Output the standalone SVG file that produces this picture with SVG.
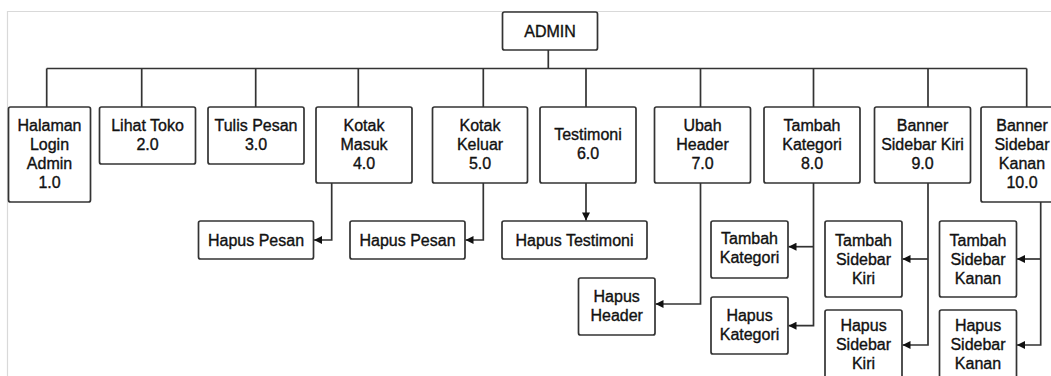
<svg xmlns="http://www.w3.org/2000/svg" width="1051" height="376" viewBox="0 0 1051 376">
<style>
.box{fill:#fff;stroke:#333;stroke-width:1.7}
.ln{fill:none;stroke:#333;stroke-width:1.7}
text{font-family:"Liberation Sans",Arial,sans-serif;font-size:16px;fill:#111;stroke:#111;stroke-width:0.35;text-anchor:middle}
</style>
<defs>
<marker id="arr" viewBox="0 0 10 10" refX="10" refY="5" markerWidth="9" markerHeight="8" orient="auto" markerUnits="userSpaceOnUse">
<path d="M0,0 L10,5 L0,10 Z" fill="#111"/>
</marker>
</defs>
<rect width="1051" height="376" fill="#fff"/>
<path d="M7.5,376 V11.5 H1051" fill="none" stroke="#d9d9d9" stroke-width="1.2"/>
<g id="connectors">
<path class="ln" d="M548.3,50 V68.5 M46.7,68.5 H1026.7 M46.7,68.5 V107 M141.7,68.5 V107 M255.7,68.5 V107 M358.3,68.5 V107 M483.3,68.5 V107 M586,68.5 V107 M700.5,68.5 V107 M813.5,68.5 V107 M928,68.5 V107 M1026.7,68.5 V107"/>
<path class="ln" d="M331.7,183 V240 H314" marker-end="url(#arr)"/>
<path class="ln" d="M483.3,183 V240 H465.5" marker-end="url(#arr)"/>
<path class="ln" d="M586,183 V220.5" marker-end="url(#arr)"/>
<path class="ln" d="M700.5,183 V304 H655.5" marker-end="url(#arr)"/>
<path class="ln" d="M813.5,183 V325.7 H788.5" marker-end="url(#arr)"/>
<path class="ln" d="M813.5,246.7 H788.5" marker-end="url(#arr)"/>
<path class="ln" d="M928,183 V345 H902.5" marker-end="url(#arr)"/>
<path class="ln" d="M928,259 H902.5" marker-end="url(#arr)"/>
<path class="ln" d="M1040.7,201.7 V345 H1017" marker-end="url(#arr)"/>
<path class="ln" d="M1040.7,259 H1017" marker-end="url(#arr)"/>
</g>
<g id="admin"><rect class="box" x="502.5" y="12" width="95" height="38" rx="2"/><text x="550" y="37">ADMIN</text></g>
<g id="n1"><rect class="box" x="8.5" y="107" width="82" height="95" rx="2"/><text x="49.5" y="131">Halaman</text><text x="49.5" y="150">Login</text><text x="49.5" y="169">Admin</text><text x="49.5" y="188">1.0</text></g>
<g id="n2"><rect class="box" x="99.5" y="107" width="96" height="57" rx="2"/><text x="147.5" y="131">Lihat Toko</text><text x="147.5" y="150">2.0</text></g>
<g id="n3"><rect class="box" x="208" y="107" width="96" height="57" rx="2"/><text x="256" y="131">Tulis Pesan</text><text x="256" y="150">3.0</text></g>
<g id="n4"><rect class="box" x="316" y="107" width="96" height="76" rx="2"/><text x="364" y="131">Kotak</text><text x="364" y="150">Masuk</text><text x="364" y="169">4.0</text></g>
<g id="n5"><rect class="box" x="432.5" y="107" width="95" height="76" rx="2"/><text x="480" y="131">Kotak</text><text x="480" y="150">Keluar</text><text x="480" y="169">5.0</text></g>
<g id="n6"><rect class="box" x="540" y="107" width="96" height="76" rx="2"/><text x="588" y="140">Testimoni</text><text x="588" y="159">6.0</text></g>
<g id="n7"><rect class="box" x="654.5" y="107" width="96" height="76" rx="2"/><text x="702.5" y="131">Ubah</text><text x="702.5" y="150">Header</text><text x="702.5" y="169">7.0</text></g>
<g id="n8"><rect class="box" x="764" y="107" width="96" height="76" rx="2"/><text x="812" y="131">Tambah</text><text x="812" y="150">Kategori</text><text x="812" y="169">8.0</text></g>
<g id="n9"><rect class="box" x="874.5" y="107" width="96" height="76" rx="2"/><text x="922.5" y="131">Banner</text><text x="922.5" y="150">Sidebar Kiri</text><text x="922.5" y="169">9.0</text></g>
<g id="n10"><rect class="box" x="981" y="107" width="82" height="95" rx="2"/><text x="1022" y="131">Banner</text><text x="1022" y="150">Sidebar</text><text x="1022" y="169">Kanan</text><text x="1022" y="188">10.0</text></g>
<g id="hapus-pesan-masuk"><rect class="box" x="198.5" y="221" width="115" height="38" rx="2"/><text x="256" y="245.5">Hapus Pesan</text></g>
<g id="hapus-pesan-keluar"><rect class="box" x="350" y="221" width="115" height="38" rx="2"/><text x="407.5" y="245.5">Hapus Pesan</text></g>
<g id="hapus-testimoni"><rect class="box" x="502" y="221" width="145" height="38" rx="2"/><text x="574.5" y="245.5">Hapus Testimoni</text></g>
<g id="hapus-header"><rect class="box" x="578.5" y="278" width="76.5" height="57" rx="2"/><text x="616.7" y="302">Hapus</text><text x="616.7" y="321">Header</text></g>
<g id="tambah-kategori"><rect class="box" x="711" y="221" width="77" height="57" rx="2"/><text x="749.5" y="244">Tambah</text><text x="749.5" y="263">Kategori</text></g>
<g id="hapus-kategori"><rect class="box" x="711" y="297" width="77" height="57" rx="2"/><text x="749.5" y="320.5">Hapus</text><text x="749.5" y="339.5">Kategori</text></g>
<g id="tambah-sidebar-kiri"><rect class="box" x="825" y="221" width="77" height="76" rx="2"/><text x="863.5" y="245.5">Tambah</text><text x="863.5" y="264.5">Sidebar</text><text x="863.5" y="283.5">Kiri</text></g>
<g id="hapus-sidebar-kiri"><rect class="box" x="825" y="310" width="77" height="76" rx="2"/><text x="863.5" y="331">Hapus</text><text x="863.5" y="350">Sidebar</text><text x="863.5" y="369">Kiri</text></g>
<g id="tambah-sidebar-kanan"><rect class="box" x="939.5" y="221" width="77" height="76" rx="2"/><text x="978" y="245.5">Tambah</text><text x="978" y="264.5">Sidebar</text><text x="978" y="283.5">Kanan</text></g>
<g id="hapus-sidebar-kanan"><rect class="box" x="939.5" y="310" width="77" height="76" rx="2"/><text x="978" y="331">Hapus</text><text x="978" y="350">Sidebar</text><text x="978" y="369">Kanan</text></g>
</svg>
